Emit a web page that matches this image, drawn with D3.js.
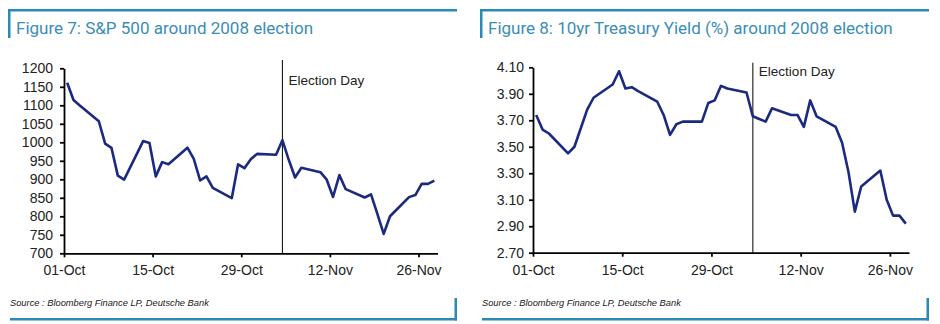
<!DOCTYPE html>
<html>
<head>
<meta charset="utf-8">
<script src="https://cdn.jsdelivr.net/npm/d3@7"></script>
<style>
  body { margin: 0; background: #fff; }
  svg { display: block; }
  .tick text { font-family: "Liberation Sans", Arial, sans-serif; font-size: 14px; fill: #222; }
  .domain, .tick line { stroke: #000; stroke-width: 1.8px; }
</style>
</head>
<body>
<div id="chart"></div>
<script>
// trading days, Oct-Nov 2008 (Thanksgiving carried flat)
var days = ["2008-10-01","2008-10-02","2008-10-03","2008-10-06","2008-10-07","2008-10-08","2008-10-09","2008-10-10",
  "2008-10-13","2008-10-14","2008-10-15","2008-10-16","2008-10-17","2008-10-20","2008-10-21","2008-10-22","2008-10-23",
  "2008-10-24","2008-10-27","2008-10-28","2008-10-29","2008-10-30","2008-10-31","2008-11-03","2008-11-04","2008-11-05",
  "2008-11-06","2008-11-07","2008-11-10","2008-11-11","2008-11-12","2008-11-13","2008-11-14","2008-11-17","2008-11-18",
  "2008-11-19","2008-11-20","2008-11-21","2008-11-24","2008-11-25","2008-11-26","2008-11-27","2008-11-28"];

var spx = [1161.06,1114.28,1099.23,1056.89,996.23,984.94,909.92,899.22,
  1003.35,998.01,907.84,946.43,940.55,985.40,955.05,896.78,908.11,
  876.77,848.92,940.51,930.09,954.09,968.75,966.30,1005.75,952.77,
  904.88,930.99,919.21,898.95,852.30,911.29,873.29,850.75,859.12,
  806.58,752.44,800.03,851.81,857.39,887.68,887.68,896.24];

var ust10 = [3.74,3.63,3.60,3.45,3.50,3.64,3.78,3.87,
  3.97,4.07,3.94,3.95,3.92,3.84,3.74,3.59,3.67,
  3.69,3.69,3.83,3.85,3.96,3.94,3.91,3.73,3.71,
  3.69,3.79,3.74,3.74,3.65,3.85,3.73,3.65,3.53,
  3.31,3.01,3.20,3.32,3.10,2.98,2.98,2.92];

var xTickDays = ["2008-10-01","2008-10-15","2008-10-29","2008-11-12","2008-11-26"];
var xTickLabels = ["01-Oct","15-Oct","29-Oct","12-Nov","26-Nov"];
var spxTicks = [700,750,800,850,900,950,1000,1050,1100,1150,1200];
var ustTicks = [2.70,2.90,3.10,3.30,3.50,3.70,3.90,4.10];
var electionDay = "2008-11-04";
var titles = ["Figure 7: S&P 500 around 2008 election",
  "Figure 8: 10yr Treasury Yield (%) around 2008 election"];
var source = "Source : Bloomberg Finance LP, Deutsche Bank";

var W = 940, H = 324;
var accent = "#2b8ab4";
var lineColor = "#1b2a80";
var parse = d3.timeParse("%Y-%m-%d");

var svg = d3.select("#chart").append("svg")
  .attr("width", W)
  .attr("height", H);

var panels = [
  { left: 8, right: 457, values: spx, ticks: spxTicks, fmt: d3.format("d"),
    plot: { x0: 64, x1: 437.5, y0: 68.3, y1: 253.3 }, pad: 7, labelY: 85, lineTop: 60 },
  { left: 480, right: 929, values: ust10, ticks: ustTicks, fmt: d3.format(".2f"),
    plot: { x0: 533, x1: 909, y0: 67.3, y1: 252.7 }, pad: 5, labelY: 76, lineTop: 62.7 }
];

panels.forEach(function (p, i) {
  var g = svg.append("g");

  // frame: top rule with a short left stub, bottom rule with a short right stub
  g.append("rect").attr("x", p.left).attr("y", 9).attr("width", p.right - p.left).attr("height", 2.5).attr("fill", accent);
  g.append("rect").attr("x", p.left).attr("y", 9).attr("width", 2.5).attr("height", 29).attr("fill", accent);
  g.append("rect").attr("x", p.left + 2).attr("y", 318).attr("width", p.right - p.left - 2).attr("height", 2.5).attr("fill", accent);
  g.append("rect").attr("x", p.right - 2.5).attr("y", 298).attr("width", 2.5).attr("height", 22.5).attr("fill", accent);

  g.append("text")
    .attr("x", p.left + 8)
    .attr("y", 34)
    .attr("fill", "#3a8db5")
    .style("font-family", "Roboto, 'Liberation Sans', sans-serif")
    .style("font-size", "17px")
    .text(titles[i]);

  g.append("text")
    .attr("x", p.left + 2)
    .attr("y", 306)
    .attr("fill", "#222")
    .style("font-family", "'Liberation Sans', Arial, sans-serif")
    .style("font-size", "9.3px")
    .style("font-style", "italic")
    .text(source);

  var x = d3.scaleTime()
    .domain([new Date(2008, 9, 1), new Date(2008, 10, 29)])
    .range([p.plot.x0, p.plot.x1]);
  var y = d3.scaleLinear()
    .domain([p.ticks[0], p.ticks[p.ticks.length - 1]])
    .range([p.plot.y1, p.plot.y0]);

  // points sit in the middle of their day
  var midday = function (s) { return d3.timeHour.offset(parse(s), 12); };

  g.append("g")
    .attr("transform", "translate(0," + p.plot.y1 + ")")
    .call(d3.axisBottom(x)
      .tickValues(xTickDays.map(parse))
      .tickFormat(function (d, k) { return xTickLabels[k]; })
      .tickSizeInner(4).tickSizeOuter(0).tickPadding(8));

  g.append("g")
    .attr("transform", "translate(" + p.plot.x0 + ",0)")
    .call(d3.axisLeft(y)
      .tickValues(p.ticks)
      .tickFormat(p.fmt)
      .tickSizeInner(4).tickSizeOuter(0).tickPadding(p.pad));

  var ex = x(midday(electionDay));
  g.append("line")
    .attr("x1", ex).attr("x2", ex)
    .attr("y1", p.lineTop).attr("y2", p.plot.y1)
    .attr("stroke", "#000")
    .attr("stroke-width", 1);
  g.append("text")
    .attr("x", ex + 6)
    .attr("y", p.labelY)
    .attr("fill", "#222")
    .style("font-family", "'Liberation Sans', Arial, sans-serif")
    .style("font-size", "13.5px")
    .text("Election Day");

  var line = d3.line()
    .x(function (d, k) { return x(midday(days[k])); })
    .y(function (d) { return y(d); });

  g.append("path")
    .datum(p.values)
    .attr("d", line)
    .attr("fill", "none")
    .attr("stroke", lineColor)
    .attr("stroke-width", 2.6)
    .attr("stroke-linejoin", "round");
});
</script>
</body>
</html>
